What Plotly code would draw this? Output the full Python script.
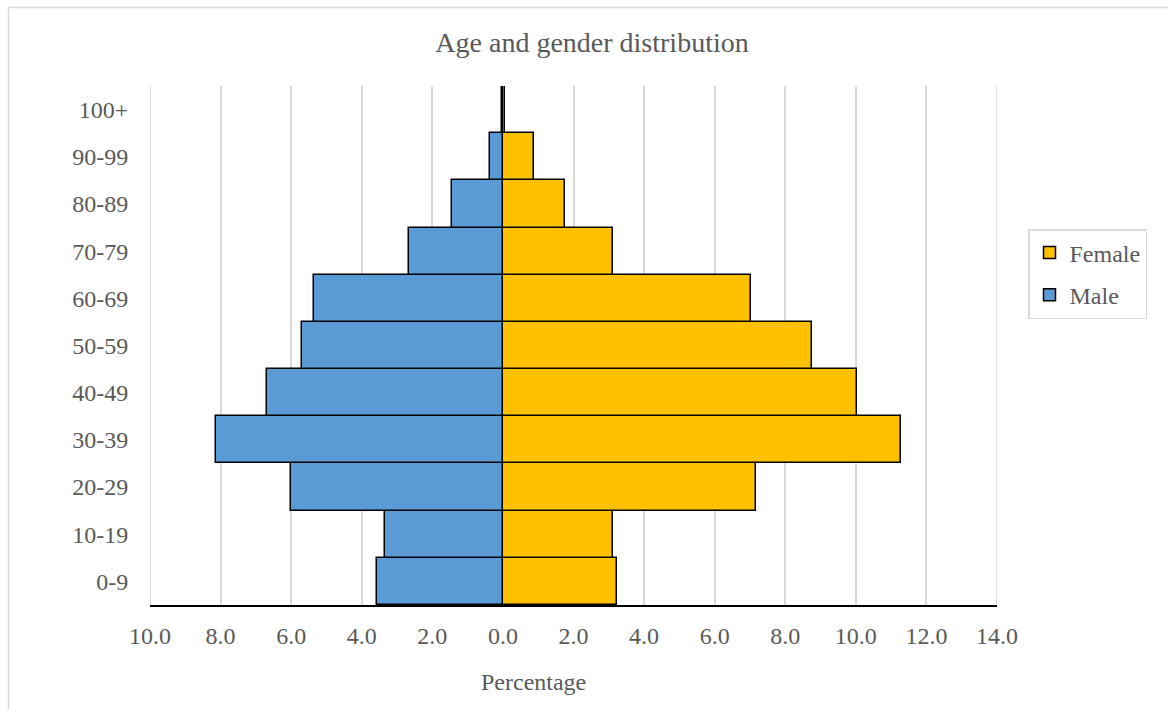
import plotly.graph_objects as go

age_groups = ["0-9", "10-19", "20-29", "30-39", "40-49", "50-59",
              "60-69", "70-79", "80-89", "90-99", "100+"]
male_pct = [3.58, 3.35, 6.01, 8.13, 6.69, 5.68, 5.34, 2.65, 1.43, 0.38, 0.04]
female_pct = [3.22, 3.11, 7.18, 11.28, 10.03, 8.77, 7.04, 3.13, 1.77, 0.89, 0.06]
x_tick_vals = [-10, -8, -6, -4, -2, 0, 2, 4, 6, 8, 10, 12, 14]
x_tick_text = ["10.0", "8.0", "6.0", "4.0", "2.0", "0.0", "2.0", "4.0",
               "6.0", "8.0", "10.0", "12.0", "14.0"]

FONT = "Liberation Serif"
GRAY = "#595959"
GRID = "#d9d9d9"

fig = go.Figure()
fig.add_trace(go.Bar(
    y=age_groups, x=female_pct, orientation="h", name="Female",
    legendgroup="f",
    marker=dict(color="#FFC000", line=dict(color="#000000", width=1.5)),
    width=1, hoverinfo="skip",
))
fig.add_trace(go.Bar(
    y=age_groups, x=[-v for v in male_pct], orientation="h", name="Male",
    legendgroup="m",
    marker=dict(color="#5B9BD5", line=dict(color="#000000", width=1.5)),
    width=1, hoverinfo="skip",
))

L, R, T, B = 150, 171, 86, 104
W, H = 1168, 709
pw, ph = W - L - R, H - T - B

def px_x(p):
    return (p - L) / pw

def px_y(p):
    return (H - B - p) / ph

edge_grid = [dict(
    type="line", xref="x", yref="paper",
    x0=v, x1=v, y0=0, y1=1,
    line=dict(color=GRID, width=1.5), layer="below",
) for v in (x_tick_vals[0], x_tick_vals[-1])]

fig.update_layout(
    width=W, height=H,
    margin=dict(l=L, r=R, t=T, b=B),
    paper_bgcolor="white", plot_bgcolor="white",
    barmode="overlay", bargap=0,
    font=dict(family=FONT, size=24, color=GRAY),
    title=dict(text="Age and gender distribution", xref="container",
               x=592 / W, xanchor="center",
               yref="container", y=1 - 42 / H, yanchor="middle",
               font=dict(family=FONT, size=28, color=GRAY)),
    xaxis=dict(
        range=[-10, 14], tickvals=x_tick_vals, ticktext=x_tick_text,
        showgrid=True, gridcolor=GRID, gridwidth=1.5,
        zeroline=False, showline=True, linecolor="#000000", linewidth=2,
        ticks="outside", ticklen=8, tickcolor="rgba(0,0,0,0)",
        tickfont=dict(family=FONT, size=24, color=GRAY),
        fixedrange=True,
    ),
    yaxis=dict(
        categoryorder="array", categoryarray=age_groups,
        showgrid=False, zeroline=False, showline=False,
        ticks="outside", ticklen=16, tickcolor="rgba(0,0,0,0)",
        tickfont=dict(family=FONT, size=24, color=GRAY),
        fixedrange=True,
    ),
    legend=dict(
        x=px_x(1028), y=px_y(229), xanchor="left", yanchor="top",
        bordercolor=GRID, borderwidth=1.5, bgcolor="white",
        font=dict(family=FONT, size=24, color=GRAY),
        traceorder="grouped", tracegroupgap=8, itemwidth=30,
    ),
    annotations=[dict(
        text="Percentage", xref="paper", yref="paper",
        x=px_x(533), y=px_y(682), xanchor="center", yanchor="middle",
        showarrow=False, font=dict(family=FONT, size=24, color=GRAY),
    )],
    shapes=[dict(
        type="rect", xref="paper", yref="paper",
        x0=px_x(8.5), x1=px_x(1175), y0=px_y(715), y1=px_y(7.5),
        line=dict(color=GRID, width=1.5), fillcolor="rgba(0,0,0,0)",
        layer="below",
    )] + edge_grid,
)

fig.write_html("out.html",
               config={"displayModeBar": False},
               post_script="document.body.style.margin='0';"
                           "document.body.style.overflow='hidden';")
